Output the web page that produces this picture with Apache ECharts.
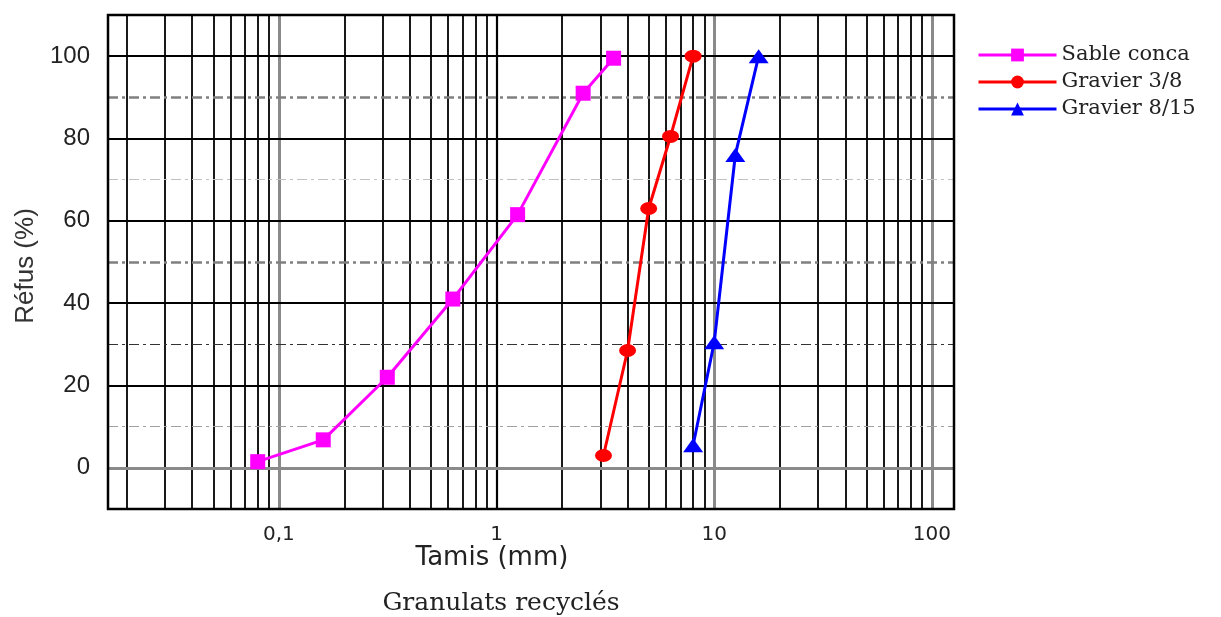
<!DOCTYPE html>
<html>
<head>
<meta charset="utf-8">
<script src="https://cdn.jsdelivr.net/npm/echarts@6/dist/echarts.min.js"></script>
<style>
html,body{margin:0;padding:0;background:#fff;}
#chart{width:1221px;height:617px;}
</style>
</head>
<body>
<div id="chart"></div>
<script>
// ---- data ----
const seriesNames = ['Sable conca', 'Gravier 3/8', 'Gravier 8/15'];
const sableX = [0.08, 0.16, 0.315, 0.63, 1.25, 2.5, 3.45];
const sableY = [1.5, 6.8, 22, 41, 61.5, 91, 99.5];
const g38X = [3.1, 4.0, 5.0, 6.3, 8.0];
const g38Y = [3, 28.5, 63, 80.5, 100];
const g815X = [8.0, 10.0, 12.5, 16.0];
const g815Y = [5.5, 30.5, 76, 100];
const xTickValues = [0.1, 1, 10, 100];
const xTickLabels = ['0,1', '1', '10', '100'];
const yTickValues = [0, 20, 40, 60, 80, 100];
const xTitle = 'Tamis (mm)';
const yTitle = 'Réfus (%)';
const subTitle = 'Granulats recyclés';

const X_MIN = 0.01642, X_MAX = 126.3;

function pairs(xs, ys) { return xs.map((x, i) => [x, ys[i]]); }

// grid lines (vertical: log decades and sub-decades)
const gridLines = [];
[0.01, 0.1, 1, 10].forEach(d => {
  for (let k = 1; k <= 9; k++) {
    const v = +(k * d).toPrecision(6);
    if (v < X_MIN || v > X_MAX) continue;
    const decade = (k === 1);
    const gray = decade && v !== 1;
    gridLines.push({
      xAxis: v,
      lineStyle: gray ? {color: '#8a8a8a', width: 3, type: 'solid'}
                      : {color: '#000', width: decade ? 2.2 : 1.8, type: 'solid'}
    });
  }
});
gridLines.push({xAxis: 100, lineStyle: {color: '#8a8a8a', width: 3, type: 'solid'}});
// horizontal
const dashDot = [10, 4, 3, 4];
const hStyles = {
  0: {color: '#8a8a8a', width: 3, type: 'solid'},
  10: {color: '#a0a0a0', width: 1.2, type: dashDot},
  20: {color: '#000', width: 1.8, type: 'solid'},
  30: {color: '#333', width: 1.2, type: dashDot},
  40: {color: '#000', width: 1.8, type: 'solid'},
  50: {color: '#808080', width: 2.5, type: dashDot},
  60: {color: '#000', width: 1.8, type: 'solid'},
  70: {color: '#c0c0c0', width: 1.2, type: dashDot},
  80: {color: '#000', width: 1.8, type: 'solid'},
  90: {color: '#808080', width: 2.5, type: dashDot},
  100: {color: '#000', width: 1.8, type: 'solid'}
};
Object.keys(hStyles).forEach(k => gridLines.push({yAxis: +k, lineStyle: hStyles[k]}));

const chart = echarts.init(document.getElementById('chart'), null, {renderer: 'canvas'});
const option = {
  animation: false,
  backgroundColor: '#fff',
  grid: {left: 108, right: 267, top: 15, bottom: 108, show: true, borderColor: '#000', borderWidth: 2.5, backgroundColor: 'transparent', z: 10},
  xAxis: {
    type: 'log', logBase: 10, min: X_MIN, max: X_MAX,
    axisLine: {show: false}, axisTick: {show: false}, splitLine: {show: false}, minorSplitLine: {show: false},
    axisLabel: {
      margin: 16, color: '#222', fontFamily: 'DejaVu Sans', fontSize: 20,
      showMinLabel: true, showMaxLabel: true,
      formatter: function (v) {
        for (let i = 0; i < xTickValues.length; i++) {
          if (Math.abs(Math.log10(v) - Math.log10(xTickValues[i])) < 1e-6) return xTickLabels[i];
        }
        return '';
      }
    }
  },
  yAxis: {
    type: 'value', min: -10, max: 110, interval: 10,
    axisLine: {show: false}, axisTick: {show: false}, splitLine: {show: false},
    axisLabel: {
      margin: 18, color: '#222', fontFamily: 'Liberation Sans', fontSize: 24,
      formatter: function (v) { return yTickValues.indexOf(Math.round(v)) >= 0 && Math.abs(v - Math.round(v)) < 1e-6 ? String(Math.round(v)) : ''; }
    }
  },
  legend: {
    data: seriesNames,
    orient: 'vertical', left: 972, top: 39,
    itemWidth: 78, itemHeight: 16, itemGap: 5,
    lineStyle: {width: 3},
    textStyle: {fontFamily: 'DejaVu Serif', fontSize: 21, color: '#222', lineHeight: 22}
  },
  graphic: [
    {type: 'text', x: 26, y: 266, rotation: Math.PI / 2,
     style: {text: yTitle, font: '26px "Liberation Sans"', fill: '#333', textAlign: 'center', textVerticalAlign: 'middle'}},
    {type: 'text', x: 492, y: 558,
     style: {text: xTitle, font: '26px "DejaVu Sans"', fill: '#222', textAlign: 'center', textVerticalAlign: 'middle'}},
    {type: 'text', x: 501, y: 603,
     style: {text: subTitle, font: '25px "DejaVu Serif"', fill: '#222', textAlign: 'center', textVerticalAlign: 'middle'}}
  ],
  series: [
    {
      name: '_grid', type: 'line', data: [], z: 1, silent: true,
      markLine: {silent: true, symbol: ['none', 'none'], label: {show: false}, animation: false, data: gridLines}
    },
    {
      name: seriesNames[0], type: 'line', data: pairs(sableX, sableY), z: 5,
      color: '#ff00ff', lineStyle: {width: 3, color: '#ff00ff'},
      symbol: 'rect', symbolSize: 15, itemStyle: {color: '#ff00ff'}
    },
    {
      name: seriesNames[1], type: 'line', data: pairs(g38X, g38Y), z: 5,
      color: '#ff0000', lineStyle: {width: 3, color: '#ff0000'},
      symbol: 'circle', symbolSize: [17, 13], itemStyle: {color: '#ff0000'}
    },
    {
      name: seriesNames[2], type: 'line', data: pairs(g815X, g815Y), z: 5,
      color: '#0000ff', lineStyle: {width: 3, color: '#0000ff'},
      symbol: 'triangle', symbolSize: [20, 14], itemStyle: {color: '#0000ff'}
    }
  ]
};
chart.setOption(option);
</script>
</body>
</html>
